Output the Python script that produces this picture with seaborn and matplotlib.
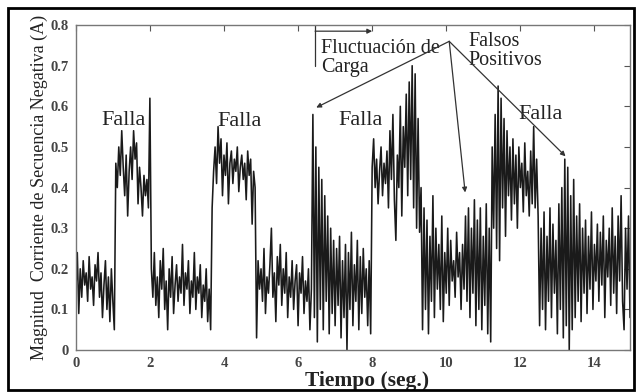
import numpy as np
import pandas as pd
import matplotlib
matplotlib.use("Agg")
import matplotlib.pyplot as plt
from matplotlib.patches import Rectangle
import seaborn as sns

STEP = 0.04  # sample interval (s)

# Signal values, read segment by segment (consecutive samples)
seg_pre1 = [0.14,0.24,0.09,0.20,0.13,0.22,0.16,0.19,0.12,0.23,0.15,0.18,0.11,0.21,0.17,
            0.24,0.13,0.19,0.08,0.16,0.22,0.10,0.18,0.07,0.20,0.12,0.05]
seg_fault1 = [0.46,0.40,0.50,0.43,0.54,0.45,0.38,0.48,0.33,0.44,0.50,0.42,0.54,0.47,0.51,
              0.36,0.45,0.40,0.33,0.43,0.38,0.42,0.35]
seg_pre2 = [0.62,0.20,0.13,0.24,0.11,0.18,0.08,0.22,0.15,0.25,0.10,0.17,0.05,0.20,0.13,0.23,
            0.09,0.16,0.21,0.12,0.18,0.14,0.26,0.11,0.19,0.15,0.22,0.09,0.17,0.13,0.24,
            0.10,0.18,0.14,0.21,0.08,0.16,0.12,0.20,0.07,0.15,0.05]
seg_fault2 = [0.35,0.44,0.50,0.41,0.55,0.46,0.52,0.38,0.48,0.43,0.51,0.36,0.46,0.49,0.41,
              0.47,0.44,0.50,0.39,0.45,0.48,0.42,0.46,0.37,0.49,0.43,0.47,0.31,0.44,0.40]
seg_pre3 = [0.03,0.22,0.15,0.20,0.12,0.25,0.09,0.18,0.14,0.21,0.30,0.13,0.19,0.07,0.23,
            0.16,0.26,0.11,0.20,0.14,0.24,0.08,0.18,0.13,0.22,0.10,0.17,0.21,0.06,0.19,
            0.14,0.23,0.09,0.17,0.12,0.20,0.05,0.15]
seg_load = [0.58,0.08,0.50,0.02,0.45,0.10,0.42,0.05,0.38,0.12,0.33,0.04,0.30,0.09,0.27,
            0.06,0.25,0.11,0.28,0.03,0.22,0.08,0.26,0.00,0.24,0.10,0.29,0.06,0.21,0.12,
            0.27,0.05,0.23,0.09,0.25,0.13,0.20,0.06,0.22,0.04]
seg_fault3 = [0.45,0.52,0.40,0.47,0.36,0.44,0.50,0.38,0.46,0.41,0.49,0.35,0.54,0.42,0.58,
              0.37,0.27,0.48,0.40,0.60,0.33,0.55,0.45,0.63,0.38,0.66,0.42,0.70,0.35,0.68,
              0.30,0.57,0.29]
seg_pre4 = [0.40,0.05,0.35,0.10,0.32,0.04,0.28,0.12,0.38,0.08,0.30,0.15,0.26,0.10,0.33,
            0.07,0.24,0.14,0.30,0.11,0.27,0.17,0.22,0.13,0.29,0.18,0.24,0.10,0.26,0.15,
            0.33,0.12,0.35,0.08,0.30,0.14,0.37,0.06,0.32,0.10,0.35,0.05,0.28,0.11,0.36,
            0.04,0.30,0.02]
seg_fault4 = [0.50,0.30,0.58,0.25,0.65,0.22,0.62,0.35,0.57,0.28,0.54,0.38,0.50,0.32,0.52,
              0.36,0.48,0.30,0.50,0.40,0.46,0.34,0.51,0.38,0.44,0.33,0.49,0.36,0.55,0.35,
              0.47,0.33]
seg_post = [0.06,0.30,0.10,0.34,0.05,0.28,0.12,0.35,0.08,0.31,0.14,0.27,0.04,0.36,0.10,
            0.40,0.03,0.47,0.06,0.45,0.00,0.38,0.05,0.42,0.08,0.33,0.12,0.36,0.07,0.30,
            0.14,0.32,0.09,0.28,0.15,0.34,0.10,0.26,0.17,0.31,0.12,0.29,0.16,0.33,0.08,
            0.27,0.18,0.30,0.11,0.35,0.14,0.28,0.09,0.33,0.17,0.38,0.12,0.05,0.30,0.15,
            0.33,0.08]

values = (seg_pre1 + seg_fault1 + seg_pre2 + seg_fault2 + seg_pre3 + seg_load +
          seg_fault3 + seg_pre4 + seg_fault4 + seg_post)
times = np.arange(len(values)) * STEP

x_ticks = [0, 2, 4, 6, 8, 10, 12, 14]
y_ticks = [0, 0.1, 0.2, 0.3, 0.4, 0.5, 0.6, 0.7, 0.8]
y_tick_labels = ["0", "0.1", "0.2", "0.3", "0.4", "0.5", "0.6", "0.7", "0.8"]

df = pd.DataFrame({"t": times, "I": values})

sns.set_style("white")
serif = ["Liberation Serif", "DejaVu Serif"]
plt.rcParams["font.family"] = serif

fig = plt.figure(figsize=(6.37, 3.92), dpi=100)
ax = fig.add_axes([0.119, 0.107, 0.870, 0.829])

sns.lineplot(data=df, x="t", y="I", ax=ax, color="#1a1a1a", linewidth=1.15,
             estimator=None, sort=False)

ax.set_xlim(0, times[-1])
ax.set_ylim(0, 0.8)
ax.set_xticks(x_ticks)
ax.set_xticklabels([str(v) for v in x_ticks])
ax.set_yticks(y_ticks)
ax.set_yticklabels(y_tick_labels)
ax.tick_params(direction="in", length=4, width=0.8, color="#555555",
               top=True, right=True, labelsize=10.5, labelcolor="#444444", pad=5)
for lab in ax.get_xticklabels() + ax.get_yticklabels():
    lab.set_fontweight("bold")
for sp in ax.spines.values():
    sp.set_color("#777777")
    sp.set_linewidth(1.0)

ax.set_xlabel("Tiempo (seg.)", fontsize=15.5, fontweight="bold", color="#222222")
ax.xaxis.set_label_coords(0.525, -0.065)
ax.set_ylabel("Magnitud  Corriente de Secuencia Negativa (A)", fontsize=13,
              color="#222222", labelpad=2)

txt_kw = dict(fontsize=16, color="#222222")
ax.text(1.3, 0.565, "Falla", ha="center", va="center", **txt_kw)
ax.text(4.41, 0.563, "Falla", ha="center", va="center", **txt_kw)
ax.text(7.7, 0.565, "Falla", ha="center", va="center", **txt_kw)
ax.text(12.54, 0.58, "Falla", ha="center", va="center", **txt_kw)
ax.text(6.62, 0.72, "Fluctuación de\nCarga", ha="left", va="center",
        fontsize=14.5, color="#222222", linespacing=1.0)
ax.text(10.6, 0.735, "Falsos\nPositivos", ha="left", va="center",
        fontsize=14.5, color="#222222", linespacing=1.0)

# bracket for load fluctuation
ax.plot([6.46, 6.46], [0.70, 0.80], color="#333333", lw=0.9)
ax.annotate("", xy=(8.0, 0.785), xytext=(6.46, 0.785),
            arrowprops=dict(arrowstyle="-|>", color="#333333", lw=0.9,
                            mutation_scale=7, shrinkA=0, shrinkB=0))
# arrows from false positives label
src = (10.08, 0.76)
for tip in [(6.49, 0.597), (10.51, 0.388), (13.22, 0.477)]:
    ax.annotate("", xy=tip, xytext=src,
                arrowprops=dict(arrowstyle="-|>", color="#333333", lw=0.9,
                                mutation_scale=7, shrinkA=0, shrinkB=0))

fig.patches.append(Rectangle((0.012, 0.005), 0.984, 0.975, transform=fig.transFigure,
                             fill=False, edgecolor="black", linewidth=2.0))

fig.savefig("out.png", dpi=100)
